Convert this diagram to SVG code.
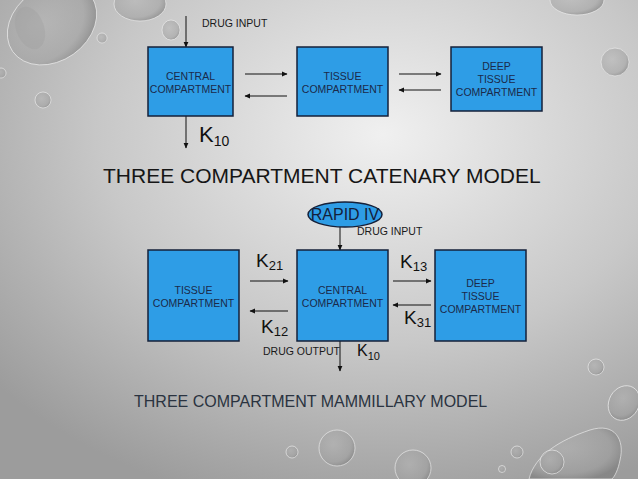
<svg xmlns="http://www.w3.org/2000/svg" width="638" height="479" viewBox="0 0 638 479">
<defs>
  <radialGradient id="bg" cx="0.6" cy="0.28" r="0.8">
    <stop offset="0" stop-color="#f0f0f0"/>
    <stop offset="0.55" stop-color="#c8c8c8"/>
    <stop offset="1" stop-color="#9c9c9c"/>
  </radialGradient>
  <radialGradient id="drop" cx="0.4" cy="0.4" r="0.65">
    <stop offset="0" stop-color="#b4b4b4" stop-opacity="0.5"/>
    <stop offset="0.75" stop-color="#9e9e9e" stop-opacity="0.55"/>
    <stop offset="1" stop-color="#7e7e7e" stop-opacity="0.7"/>
  </radialGradient>
  <marker id="ah" markerWidth="6" markerHeight="6" refX="5" refY="3" orient="auto" markerUnits="userSpaceOnUse">
    <path d="M0,0.6 L5.5,3 L0,5.4Z" fill="#111"/>
  </marker>
  <style>
    .box{fill:#2e9de6;stroke:#14203a;stroke-width:1.5}
    .bt{font-family:"Liberation Sans",Arial,sans-serif;font-size:10.5px;fill:#1b2a4a;text-anchor:middle}
    .lbl{font-family:"Liberation Sans",Arial,sans-serif;font-size:10.5px;fill:#1a1a1a}
    .k{font-family:"Liberation Sans",Arial,sans-serif;fill:#111}
    .ln{stroke:#111;stroke-width:1;fill:none;marker-end:url(#ah)}
    .drop{fill:url(#drop);stroke:#ececec;stroke-width:0.8;stroke-opacity:0.85}
    .title{font-family:"Liberation Sans",Arial,sans-serif}
  </style>
</defs>
<rect width="638" height="479" fill="url(#bg)"/>
<g id="droplets">
  <ellipse class="drop" cx="52" cy="24" rx="48" ry="37" transform="rotate(-35 52 24)"/>
  <ellipse cx="30" cy="28" rx="14" ry="22" fill="#a0a0a0" opacity="0.4" transform="rotate(-20 30 28)"/>
  <ellipse class="drop" cx="140" cy="4" rx="26" ry="17"/>
  <ellipse class="drop" cx="171" cy="30" rx="9" ry="10"/>
  <circle class="drop" cx="102" cy="38" r="5"/>
  <circle class="drop" cx="1" cy="73" r="5"/>
  <circle class="drop" cx="43" cy="100" r="8"/>
  <ellipse class="drop" cx="577" cy="0" rx="27" ry="15"/>
  <circle class="drop" cx="615" cy="62" r="14"/>
  <ellipse class="drop" cx="596" cy="367" rx="8" ry="8"/>
  <ellipse class="drop" cx="624" cy="403" rx="15" ry="18" transform="rotate(30 624 403)"/>
  <path class="drop" d="M529,479 C535,455 560,440 590,430 C615,422 625,440 620,460 C618,470 615,476 612,479 Z"/>
  <circle class="drop" cx="292" cy="452" r="6"/>
  <circle class="drop" cx="337" cy="448" r="18"/>
  <circle class="drop" cx="413" cy="468" r="18"/>
  <circle class="drop" cx="517" cy="452" r="6"/>
  <circle class="drop" cx="502" cy="469" r="3.5"/>
  <circle class="drop" cx="552" cy="462" r="12"/>
</g>

<g id="connectors">
  <line class="ln" x1="186" y1="16" x2="186" y2="47"/>
  <line class="ln" x1="245" y1="74" x2="287" y2="74"/>
  <line class="ln" x1="287" y1="96" x2="245" y2="96"/>
  <line class="ln" x1="399" y1="74" x2="441" y2="74"/>
  <line class="ln" x1="441" y1="90" x2="399" y2="90"/>
  <line class="ln" x1="186" y1="116" x2="186" y2="148"/>
  <line class="ln" x1="340" y1="227" x2="340" y2="250"/>
  <line class="ln" x1="250" y1="281" x2="288" y2="281"/>
  <line class="ln" x1="288" y1="311" x2="250" y2="311"/>
  <line class="ln" x1="393" y1="281" x2="431" y2="281"/>
  <line class="ln" x1="431" y1="305" x2="393" y2="305"/>
  <line class="ln" x1="340" y1="341" x2="340" y2="371"/>
</g>

<g id="labels">
  <text class="lbl" x="202" y="27">DRUG INPUT</text>
  <text class="k" x="199" y="142" font-size="22">K<tspan font-size="14" dy="4">10</tspan></text>
  <text class="lbl" x="357" y="235">DRUG INPUT</text>
  <text class="k" x="256" y="267" font-size="19">K<tspan font-size="13" dy="3">21</tspan></text>
  <text class="k" x="261" y="333" font-size="19">K<tspan font-size="13" dy="3">12</tspan></text>
  <text class="k" x="400" y="268" font-size="19">K<tspan font-size="13" dy="3">13</tspan></text>
  <text class="k" x="404" y="324" font-size="19">K<tspan font-size="13" dy="3">31</tspan></text>
  <text class="lbl" x="263" y="355" font-size="10">DRUG OUTPUT</text>
  <text class="k" x="357" y="356" font-size="16">K<tspan font-size="11" dy="4">10</tspan></text>
</g>

<g id="top-central">
  <rect class="box" x="148" y="47" width="85" height="69"/>
  <text class="bt" x="190.5" y="80">CENTRAL</text>
  <text class="bt" x="190.5" y="93">COMPARTMENT</text>
</g>
<g id="top-tissue">
  <rect class="box" x="297" y="47" width="91" height="69"/>
  <text class="bt" x="342.5" y="80">TISSUE</text>
  <text class="bt" x="342.5" y="93">COMPARTMENT</text>
</g>
<g id="top-deep">
  <rect class="box" x="451" y="47" width="91" height="64"/>
  <text class="bt" x="496.5" y="70">DEEP</text>
  <text class="bt" x="496.5" y="83">TISSUE</text>
  <text class="bt" x="496.5" y="96">COMPARTMENT</text>
</g>

<text class="title" x="103" y="183" font-size="21" fill="#161616">THREE COMPARTMENT CATENARY MODEL</text>

<g id="rapid-iv">
  <ellipse cx="345" cy="214.5" rx="37" ry="12.5" fill="#2e9de6" stroke="#14203a" stroke-width="1.5"/>
  <text class="title" x="345" y="220" font-size="16" fill="#14203a" text-anchor="middle">RAPID IV</text>
</g>
<g id="bottom-tissue">
  <rect class="box" x="148" y="250" width="91" height="91"/>
  <text class="bt" x="193.5" y="294">TISSUE</text>
  <text class="bt" x="193.5" y="307">COMPARTMENT</text>
</g>
<g id="bottom-central">
  <rect class="box" x="297" y="250" width="91" height="91"/>
  <text class="bt" x="342.5" y="294">CENTRAL</text>
  <text class="bt" x="342.5" y="307">COMPARTMENT</text>
</g>
<g id="bottom-deep">
  <rect class="box" x="435" y="250" width="91" height="91"/>
  <text class="bt" x="480.5" y="287">DEEP</text>
  <text class="bt" x="480.5" y="300">TISSUE</text>
  <text class="bt" x="480.5" y="313">COMPARTMENT</text>
</g>

<text class="title" x="134" y="407" font-size="16" fill="#2a3340">THREE COMPARTMENT MAMMILLARY MODEL</text>
</svg>
